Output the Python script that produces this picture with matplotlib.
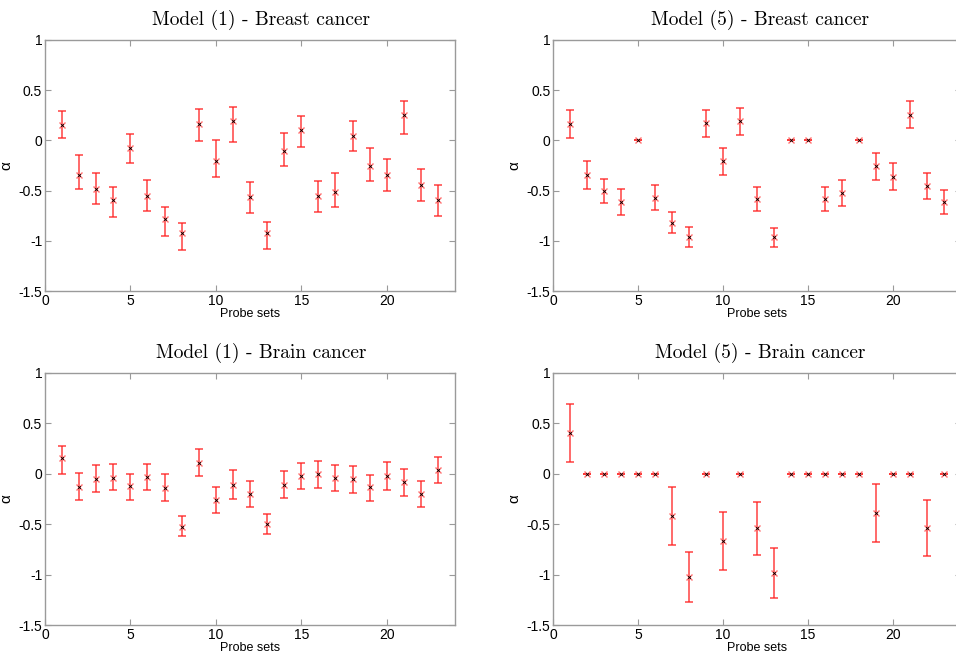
import matplotlib
matplotlib.use("Agg")
import matplotlib.pyplot as plt
import numpy as np

plt.rcParams["font.family"] = ["Liberation Sans", "DejaVu Sans"]

probe_sets = list(range(1, 24))

# Model (1) - Breast cancer
m1_breast = [0.15, -0.34, -0.48, -0.59, -0.08, -0.55, -0.78, -0.92, 0.16, -0.21, 0.19, -0.56,
             -0.92, -0.11, 0.10, -0.55, -0.51, 0.04, -0.26, -0.34, 0.25, -0.44, -0.59]
m1_breast_lo = [0.02, -0.48, -0.63, -0.76, -0.23, -0.70, -0.95, -1.09, -0.01, -0.36, -0.02, -0.72,
                -1.08, -0.26, -0.07, -0.71, -0.66, -0.11, -0.40, -0.50, 0.06, -0.60, -0.75]
m1_breast_hi = [0.29, -0.15, -0.33, -0.46, 0.06, -0.39, -0.66, -0.82, 0.31, 0.00, 0.33, -0.41,
                -0.81, 0.07, 0.24, -0.40, -0.33, 0.19, -0.08, -0.19, 0.39, -0.29, -0.44]

# Model (5) - Breast cancer
m5_breast = [0.16, -0.34, -0.50, -0.61, 0.0, -0.57, -0.82, -0.96, 0.17, -0.21, 0.19, -0.58,
             -0.96, 0.0, 0.0, -0.58, -0.52, 0.0, -0.26, -0.36, 0.25, -0.45, -0.61]
m5_breast_lo = [0.02, -0.48, -0.62, -0.74, 0.0, -0.69, -0.92, -1.06, 0.03, -0.34, 0.05, -0.70,
                -1.06, 0.0, 0.0, -0.70, -0.65, 0.0, -0.39, -0.49, 0.12, -0.58, -0.73]
m5_breast_hi = [0.30, -0.21, -0.38, -0.48, 0.0, -0.44, -0.71, -0.86, 0.30, -0.08, 0.32, -0.46,
                -0.87, 0.0, 0.0, -0.46, -0.39, 0.0, -0.13, -0.23, 0.39, -0.33, -0.49]

# Model (1) - Brain cancer
m1_brain = [0.16, -0.13, -0.05, -0.04, -0.12, -0.03, -0.14, -0.53, 0.11, -0.26, -0.11, -0.20,
            -0.50, -0.11, -0.02, 0.00, -0.04, -0.05, -0.13, -0.02, -0.08, -0.20, 0.04]
m1_brain_lo = [0.00, -0.26, -0.18, -0.16, -0.26, -0.16, -0.27, -0.62, -0.02, -0.39, -0.25, -0.33,
               -0.60, -0.24, -0.15, -0.14, -0.17, -0.19, -0.27, -0.16, -0.22, -0.33, -0.09]
m1_brain_hi = [0.28, 0.01, 0.09, 0.10, 0.00, 0.10, 0.00, -0.42, 0.25, -0.13, 0.04, -0.07,
               -0.40, 0.03, 0.11, 0.13, 0.09, 0.08, -0.01, 0.12, 0.05, -0.07, 0.17]

# Model (5) - Brain cancer
m5_brain = [0.40, 0.0, 0.0, 0.0, 0.0, 0.0, -0.42, -1.02, 0.0, -0.67, 0.0, -0.54,
            -0.98, 0.0, 0.0, 0.0, 0.0, 0.0, -0.39, 0.0, 0.0, -0.54, 0.0]
m5_brain_lo = [0.12, 0.0, 0.0, 0.0, 0.0, 0.0, -0.71, -1.27, 0.0, -0.95, 0.0, -0.81,
               -1.23, 0.0, 0.0, 0.0, 0.0, 0.0, -0.68, 0.0, 0.0, -0.82, 0.0]
m5_brain_hi = [0.69, 0.0, 0.0, 0.0, 0.0, 0.0, -0.13, -0.78, 0.0, -0.38, 0.0, -0.28,
               -0.74, 0.0, 0.0, 0.0, 0.0, 0.0, -0.10, 0.0, 0.0, -0.26, 0.0]

# (title, values, lower, upper, axes position, title x in axes coords)
panels = [
    ("Model (1) - Breast cancer", m1_breast, m1_breast_lo, m1_breast_hi, [0.047, 0.555, 0.429, 0.384], 0.527),
    ("Model (5) - Breast cancer", m5_breast, m5_breast_lo, m5_breast_hi, [0.5785, 0.555, 0.4268, 0.384], 0.507),
    ("Model (1) - Brain cancer", m1_brain, m1_brain_lo, m1_brain_hi, [0.047, 0.0443, 0.429, 0.3854], 0.527),
    ("Model (5) - Brain cancer", m5_brain, m5_brain_lo, m5_brain_hi, [0.5785, 0.0443, 0.4268, 0.3854], 0.507),
]

frame_col = "#9a9a9a"

fig = plt.figure(figsize=(9.56, 6.54), dpi=100)

for title, vals, lo, hi, pos, tx in panels:
    ax = fig.add_axes(pos)
    x = np.array(probe_sets)
    y = np.array(vals)
    yerr = np.vstack([y - np.array(lo), np.array(hi) - y])
    ax.errorbar(x, y, yerr=yerr, fmt="none", ecolor="#ff2020", elinewidth=1.1,
                capsize=3, capthick=1.1, alpha=0.85)
    ax.plot(x, y, "x", color="#ff7070", markersize=4, markeredgewidth=1.0)
    ax.plot(x, y, "x", color="black", markersize=2, markeredgewidth=0.6)
    ax.set_xlim(0, 24)
    ax.set_ylim(-1.5, 1)
    ax.set_xticks([0, 5, 10, 15, 20])
    ax.set_yticks([-1.5, -1, -0.5, 0, 0.5, 1])
    ax.set_yticklabels(["-1.5", "-1", "-0.5", "0", "0.5", "1"])
    ax.tick_params(direction="in", length=4, width=0.8, color=frame_col,
                   top=True, right=True, labelsize=10, pad=2)
    for sp in ax.spines.values():
        sp.set_color(frame_col)
        sp.set_linewidth(1.0)
    ax.set_xlabel("Probe sets", fontsize=9, labelpad=0)
    ax.set_ylabel("α", fontsize=11)
    ax.yaxis.set_label_coords(-0.078, 0.5)
    ax.set_title(title, fontsize=14, family=["cmr10", "DejaVu Serif"], pad=11, x=tx)

fig.savefig("out.png", dpi=100)
